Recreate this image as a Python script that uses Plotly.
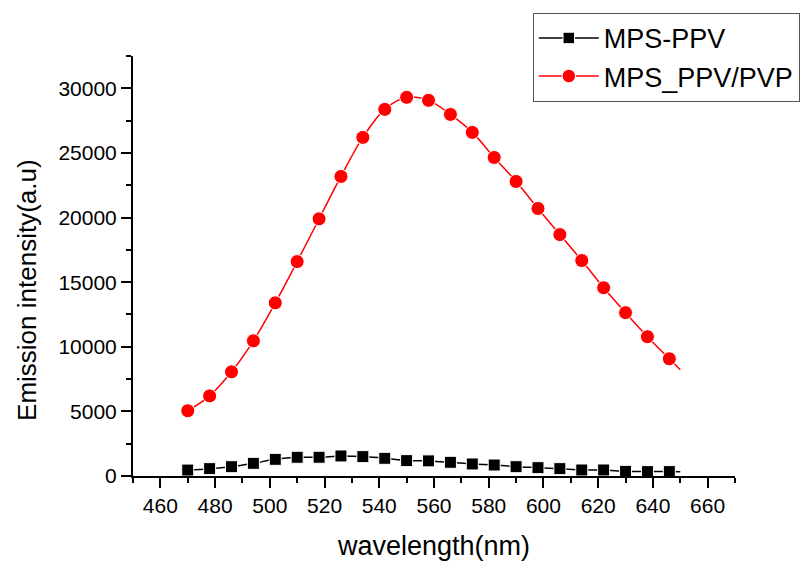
import plotly.graph_objects as go

wavelength = [470, 478, 486, 494, 502, 510, 518, 526, 534, 542, 550, 558,
              566, 574, 582, 590, 598, 606, 614, 622, 630, 638, 646]
mps_ppv = [460, 570, 720, 980, 1290, 1450, 1450, 1550, 1500, 1370, 1190, 1170,
           1060, 930, 850, 720, 645, 570, 465, 465, 360, 340, 340]
mps_ppv_pvp = [5050, 6200, 8060, 10460, 13400, 16590, 19900, 23180, 26200, 28370,
               29300, 29070, 27980, 26590, 24650, 22790, 20700, 18680, 16670,
               14570, 12640, 10780, 9070]
# fitted curve end point
curve_end_x = 650
mps_ppv_end = 330
mps_ppv_pvp_end = 8220

names = ["MPS-PPV", "MPS_PPV/PVP"]
x_title = "wavelength(nm)"
y_title = "Emission intensity(a.u)"

fig = go.Figure()

n = len(wavelength)
fig.add_trace(go.Scatter(
    x=wavelength + [curve_end_x], y=mps_ppv + [mps_ppv_end],
    mode="lines+markers", name=names[0], line_shape="spline",
    line=dict(color="black", width=1.5),
    marker=dict(symbol="square", size=[12] * n + [0], color="black", opacity=1),
))
fig.add_trace(go.Scatter(
    x=wavelength + [curve_end_x], y=mps_ppv_pvp + [mps_ppv_pvp_end],
    mode="lines+markers", name=names[1], line_shape="spline",
    line=dict(color="#ff0000", width=1.5),
    marker=dict(symbol="circle", size=[14] * n + [0], color="#ff0000", opacity=1),
))

font_family = "Liberation Sans, Arial, sans-serif"

fig.update_layout(
    width=803, height=561,
    margin=dict(l=133, r=68, t=56, b=85, autoexpand=False),
    plot_bgcolor="white", paper_bgcolor="white",
    font=dict(family=font_family, color="black"),
    showlegend=True,
    legend=dict(
        xref="container", yref="container",
        x=0.996, xanchor="right", y=0.977, yanchor="top",
        bordercolor="#555555", borderwidth=1, bgcolor="white",
        font=dict(size=27, family=font_family, color="black"),
        itemwidth=60, tracegroupgap=0,
    ),
    xaxis=dict(
        range=[450, 670], showgrid=False, zeroline=False,
        showline=True, linecolor="black", linewidth=2,
        ticks="outside", ticklen=10, tickwidth=2, tickcolor="black",
        tick0=460, dtick=20, tickformat="d",
        minor=dict(dtick=10, tick0=450, ticks="outside", ticklen=5, tickwidth=2, tickcolor="black"),
        tickfont=dict(size=21, family=font_family, color="black"),
        title=dict(text=x_title, font=dict(size=27, family=font_family, color="black"), standoff=20),
    ),
    yaxis=dict(
        range=[0, 32500], showgrid=False, zeroline=False,
        showline=True, linecolor="black", linewidth=2,
        ticks="outside", ticklen=10, tickwidth=2, tickcolor="black",
        tick0=0, dtick=5000, tickformat="d",
        minor=dict(dtick=2500, ticks="outside", ticklen=5, tickwidth=2, tickcolor="black"),
        tickfont=dict(size=21, family=font_family, color="black"),
    ),
    annotations=[dict(
        text=y_title, textangle=-90, showarrow=False,
        xref="paper", yref="paper", x=0, y=0.443,
        xanchor="center", yanchor="middle", xshift=-106,
        font=dict(size=26, family=font_family, color="black"),
    )],
)

fig.write_html("out.html")
